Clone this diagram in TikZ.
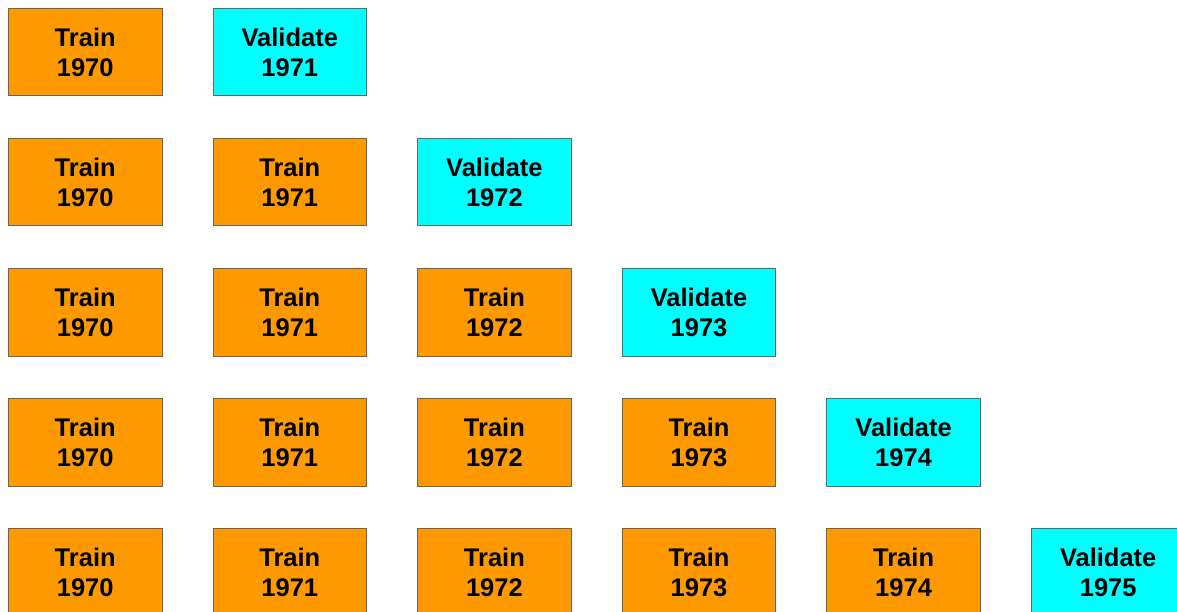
\documentclass[tikz,border=0pt]{standalone}
\usepackage{fontspec}
\setmainfont{Liberation Sans}
\begin{document}
\begin{tikzpicture}[x=1pt,y=-1pt,
  cell/.style={draw=black!60,line width=0.9pt,minimum width=153.5pt,minimum height=87.5pt,anchor=north west,align=center,inner sep=0pt,
    font=\fontsize{25.5}{30}\selectfont\bfseries},
  trainbox/.style={cell,fill=orange1},
  valbox/.style={cell,fill=cyan1}]
\definecolor{orange1}{HTML}{FF9900}
\definecolor{cyan1}{HTML}{00FFFF}
\useasboundingbox (0,0) rectangle (1177,612);
\foreach \r in {0,...,4}{
  \foreach \c in {0,...,\r}{
    \pgfmathtruncatemacro{\yr}{1970+\c}
    \node[trainbox] (t\r\c) at ({8+204.6*\c},{8+130*\r}) {Train\\\yr};
  }
  \pgfmathtruncatemacro{\vc}{\r+1}
  \pgfmathtruncatemacro{\vy}{1971+\r}
  \node[valbox] (v\r) at ({8+204.6*\vc},{8+130*\r}) {Validate\\\vy};
}
\end{tikzpicture}
\end{document}
